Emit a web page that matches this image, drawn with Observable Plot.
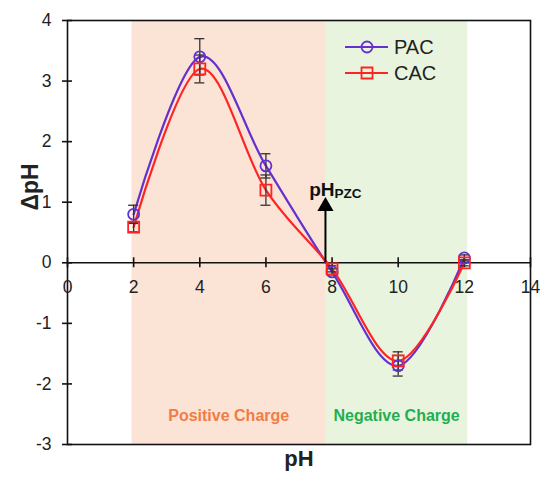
<!DOCTYPE html>
<html>
<head>
<meta charset="utf-8">
<script src="https://cdn.jsdelivr.net/npm/d3@7"></script>
<script src="https://cdn.jsdelivr.net/npm/@observablehq/plot@0.6"></script>
<style>
  html, body { margin: 0; padding: 0; background: #fff; }
  #chart { position: relative; width: 541px; height: 477px; }
  svg { font-family: "Liberation Sans", Arial, sans-serif; }
</style>
</head>
<body>
<div id="chart"></div>
<script>
// Initial pH values and resulting ΔpH for the two carbons
const pHValues = [2, 4, 6, 8, 10, 12];
const pacDelta = [0.8, 3.4, 1.6, -0.15, -1.7, 0.08];
const pacError = [0.15, 0.3, 0.2, 0.05, 0.17, 0.05];
const cacDelta = [0.59, 3.2, 1.2, -0.1, -1.62, 0.0];
const cacError = [0.08, 0.23, 0.25, 0.05, 0.15, 0.05];

// Axis ticks
const xTicks = [0, 2, 4, 6, 8, 10, 12, 14];
const yTicks = [-3, -2, -1, 0, 1, 2, 3, 4];

// Point of zero charge and the surface-charge zones on either side
const pzc = 7.8;
const pzcArrowTop = 0.9;
const pzcLabelY = 1.2;
const zoneNames = ["Positive Charge", "Negative Charge"];
const zoneStart = [1.95, pzc];
const zoneEnd = [pzc, 12.1];
const zoneLabelY = -2.52;

const PAC_COLOR = "#6431CF";
const CAC_COLOR = "#FF2424";
const zoneFill = ["#FBE3D6", "#E9F4DE"];
const zoneText = ["#F07D45", "#1FAF50"];

const pac = pHValues.map((x, i) => ({x, y: pacDelta[i], e: pacError[i]}));
const cac = pHValues.map((x, i) => ({x, y: cacDelta[i], e: cacError[i]}));
const zones = zoneNames.map((name, i) => ({name, x1: zoneStart[i], x2: zoneEnd[i], fill: zoneFill[i], color: zoneText[i]}));

const errorMarks = (data) => [
  Plot.ruleX(data, {x: "x", y1: d => d.y - d.e, y2: d => d.y + d.e, stroke: "#333", strokeWidth: 1.3}),
  Plot.ruleY(data, {y: d => d.y + d.e, x1: "x", x2: "x", insetLeft: -5, insetRight: -5, stroke: "#333", strokeWidth: 1.3}),
  Plot.ruleY(data, {y: d => d.y - d.e, x1: "x", x2: "x", insetLeft: -5, insetRight: -5, stroke: "#333", strokeWidth: 1.3})
];

const chart = Plot.plot({
  width: 541,
  height: 477,
  marginLeft: 67,
  marginRight: 11,
  marginTop: 20,
  marginBottom: 33,
  x: {domain: [0, 14], axis: null},
  y: {domain: [-3, 4], axis: null},
  style: {fontFamily: "Liberation Sans, Arial, sans-serif", background: "#fff"},
  marks: [
    // charge zones
    Plot.rect(zones, {x1: "x1", x2: "x2", y1: -3, y2: 4, fill: d => d.fill}),
    Plot.text(zones, {x: d => (d.x1 + d.x2) / 2, y: zoneLabelY, text: "name", fill: d => d.color,
      fontWeight: "bold", fontSize: 16}),
    // frame and axes crossing at the origin
    Plot.frame({stroke: "#111", strokeWidth: 1.6}),
    Plot.ruleY([0], {stroke: "#111", strokeWidth: 1.6}),
    Plot.ruleX(xTicks, {x: d => d, y1: 0, y2: 0, insetTop: -5, insetBottom: -5, stroke: "#111", strokeWidth: 1.6}),
    Plot.text(xTicks, {x: d => d, y: 0, text: d => String(d), dy: 25, fontSize: 17.5, fill: "#222"}),
    Plot.ruleY(yTicks, {y: d => d, x1: 0, x2: 0, insetLeft: -5, insetRight: -5, stroke: "#111", strokeWidth: 1.6}),
    Plot.text(yTicks, {x: 0, y: d => d, text: d => String(d), dx: -16, textAnchor: "end", fontSize: 17.5, fill: "#222"}),
    // axis titles
    Plot.text(["pH"], {frameAnchor: "bottom", dy: 21, fontSize: 22, fontWeight: "bold", fill: "#222"}),
    Plot.text(["ΔpH"], {frameAnchor: "left", rotate: -90, dx: -37, dy: -22, fontSize: 23, fontWeight: "bold", fill: "#222"}),
    // smoothed series
    Plot.line(pac, {x: "x", y: "y", stroke: PAC_COLOR, strokeWidth: 2.2, curve: "cardinal"}),
    Plot.line(cac, {x: "x", y: "y", stroke: CAC_COLOR, strokeWidth: 2.2, curve: "cardinal"}),
    ...errorMarks(pac),
    ...errorMarks(cac),
    Plot.dot(pac, {x: "x", y: "y", symbol: "circle", r: 5.5, stroke: PAC_COLOR, strokeWidth: 1.8, fill: "none"}),
    Plot.dot(cac, {x: "x", y: "y", symbol: "square", r: 6.2, stroke: CAC_COLOR, strokeWidth: 1.8, fill: "none"}),
    // point of zero charge: shaft with a filled arrowhead
    Plot.ruleX([pzc], {x: d => d, y1: 0, y2: pzcArrowTop, stroke: "#000", strokeWidth: 2}),
    Plot.dot([pzc], {x: d => d, y: pzcArrowTop, symbol: "triangle", r: 6, fill: "#000", stroke: "none", dy: -2}),
    Plot.text([pzc], {x: d => d, y: pzcLabelY, text: () => "pH", textAnchor: "end", dx: 9, fontSize: 19, fontWeight: "bold", fill: "#111"}),
    Plot.text([pzc], {x: d => d, y: pzcLabelY, text: () => "PZC", textAnchor: "start", dx: 9, dy: 4, fontSize: 13.5, fontWeight: "bold", fill: "#111"})
  ]
});

// Legend inside the upper right of the plot area
const svg = d3.select(chart);
const legendItems = [
  {name: "PAC", color: PAC_COLOR, symbol: d3.symbolCircle, r: 5.5},
  {name: "CAC", color: CAC_COLOR, symbol: d3.symbolSquare, r: 6.2}
];
const legend = svg.append("g").attr("transform", "translate(345,47)");
legendItems.forEach((item, i) => {
  const g = legend.append("g").attr("transform", `translate(0,${i * 26})`);
  g.append("line").attr("x1", 0).attr("x2", 43).attr("y1", 0).attr("y2", 0)
    .attr("stroke", item.color).attr("stroke-width", 2.2);
  g.append("path").attr("transform", "translate(22,0)")
    .attr("d", d3.symbol(item.symbol, Math.PI * item.r * item.r)())
    .attr("fill", "none").attr("stroke", item.color).attr("stroke-width", 1.8);
  g.append("text").attr("x", 49).attr("y", 0).attr("dy", "0.35em")
    .attr("text-anchor", "start")
    .attr("font-size", 20).attr("fill", "#222").text(item.name);
});

document.getElementById("chart").appendChild(chart);
</script>
</body>
</html>
